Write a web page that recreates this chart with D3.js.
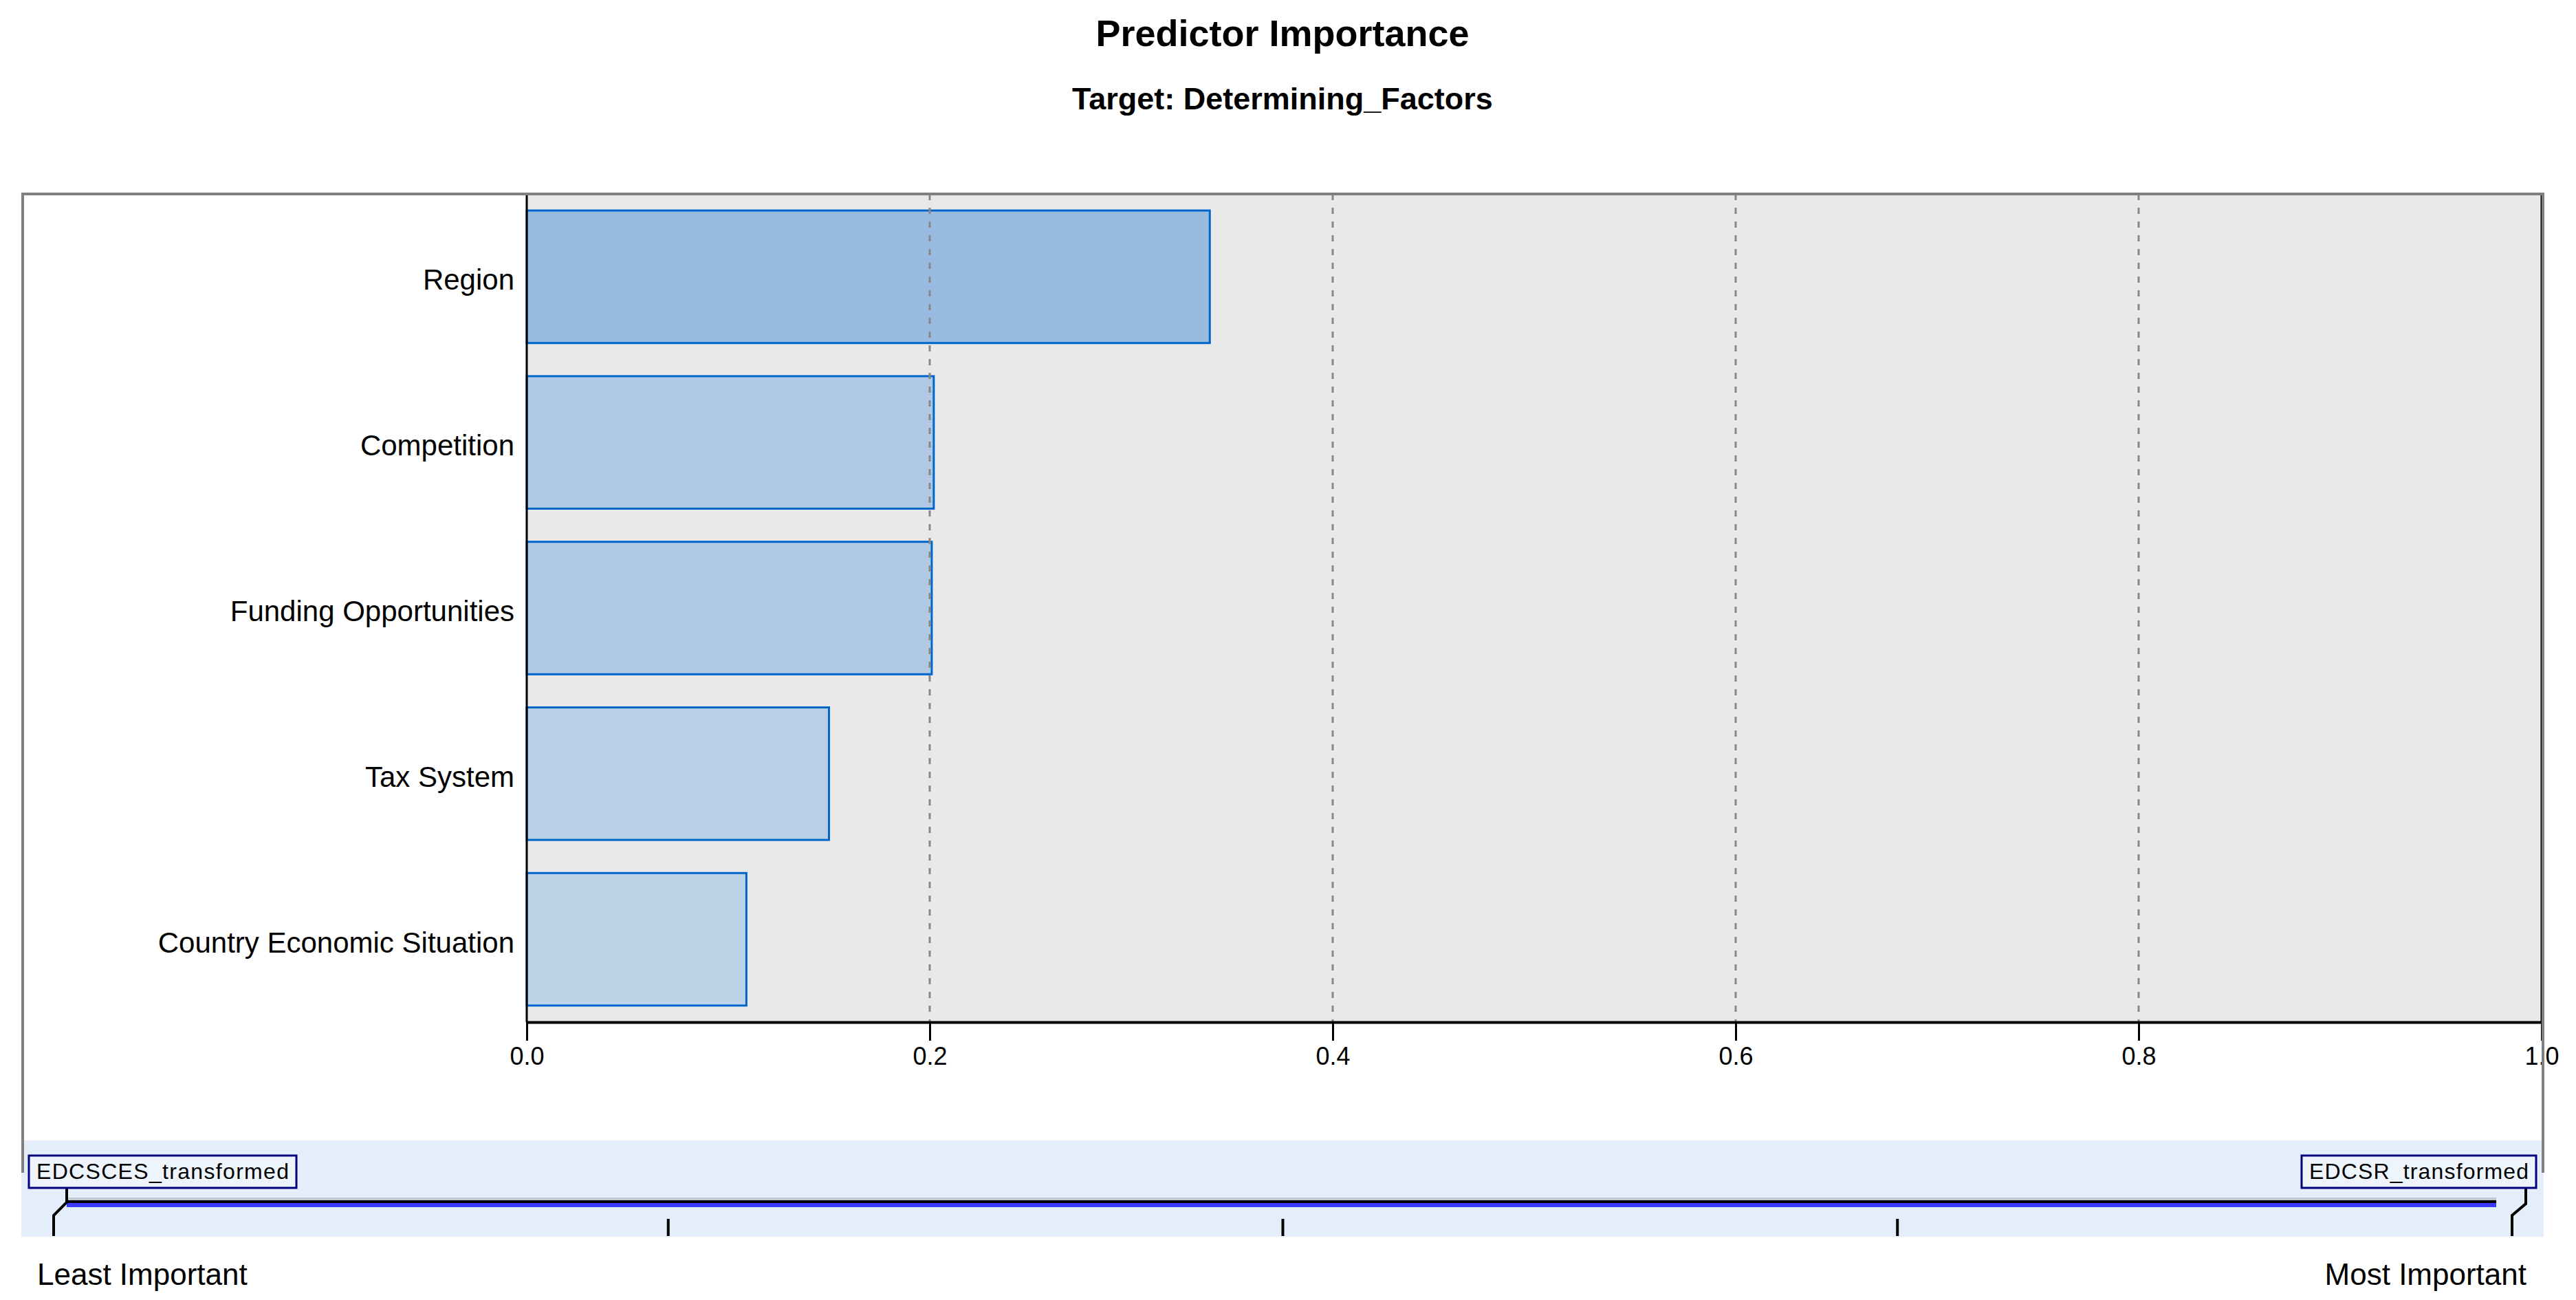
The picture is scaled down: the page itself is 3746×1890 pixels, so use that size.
<!DOCTYPE html>
<html>
<head>
<meta charset="utf-8">
<script src="https://cdn.jsdelivr.net/npm/d3@7"></script>
<style>
  body { margin: 0; background: #fff; }
  text { font-family: "Liberation Sans", Arial, sans-serif; fill: #000; }
</style>
</head>
<body>
<svg id="chart"></svg>
<script>
const predictors = ["Region", "Competition", "Funding Opportunities", "Tax System", "Country Economic Situation"];
const importance = [0.339, 0.202, 0.201, 0.150, 0.109];
const xTicks = [0, 0.2, 0.4, 0.6, 0.8, 1.0];
const rangeLabels = ["EDCSCES_transformed", "EDCSR_transformed"];
const endLabels = ["Least Important", "Most Important"];
const rangeTicks = [0.25, 0.5, 0.75];

const W = 3746, H = 1890;
const panel = { left: 33, right: 3698, top: 282, bottom: 1705 };
const plot = { left: 766, right: 3696, top: 282, bottom: 1486 };

const svg = d3.select("#chart")
  .attr("width", W)
  .attr("height", H);

svg.append("rect").attr("width", W).attr("height", H).attr("fill", "#fff");

// titles
svg.append("text")
  .attr("x", 1865).attr("y", 67)
  .attr("text-anchor", "middle")
  .style("font-size", "54px").style("font-weight", "bold")
  .text("Predictor Importance");

svg.append("text")
  .attr("x", 1865).attr("y", 159)
  .attr("text-anchor", "middle")
  .style("font-size", "45px").style("font-weight", "bold")
  .text("Target: Determining_Factors");

const data = predictors.map((p, i) => ({ name: p, value: importance[i] }));

const x = d3.scaleLinear().domain([0, 1]).range([plot.left, plot.right]);
const y = d3.scaleBand().domain(predictors).range([plot.top, plot.bottom])
  .paddingInner(0.2).paddingOuter(0.1);
const fill = d3.scaleLinear()
  .domain([d3.min(importance), d3.max(importance)])
  .range(["#bfd3e8", "#99bbdf"]);

// plot background
svg.append("rect")
  .attr("x", plot.left).attr("y", plot.top)
  .attr("width", plot.right - plot.left).attr("height", plot.bottom - plot.top)
  .attr("fill", "#e9e9e9");

// bars
svg.selectAll(".bar")
  .data(data)
  .enter()
  .append("rect")
  .attr("class", "bar")
  .attr("x", x(0))
  .attr("y", d => y(d.name))
  .attr("width", d => x(d.value) - x(0))
  .attr("height", y.bandwidth())
  .attr("fill", d => fill(d.value))
  .attr("stroke", "#0066cc")
  .attr("stroke-width", 3);

// dashed grid lines
svg.selectAll(".grid")
  .data(xTicks.filter(t => t > 0 && t < 1))
  .enter()
  .append("line")
  .attr("x1", d => x(d)).attr("x2", d => x(d))
  .attr("y1", plot.top).attr("y2", plot.bottom)
  .attr("stroke", "#888")
  .attr("stroke-width", 3)
  .attr("stroke-dasharray", "9,11");

// category labels
svg.selectAll(".cat")
  .data(predictors)
  .enter()
  .append("text")
  .attr("x", plot.left - 18)
  .attr("y", d => y(d) + y.bandwidth() / 2 + 19)
  .attr("text-anchor", "end")
  .style("font-size", "42px")
  .text(d => d);

// x axis
const xAxis = d3.axisBottom(x)
  .tickValues(xTicks)
  .tickFormat(d3.format(".1f"))
  .tickSize(27)
  .tickSizeOuter(0)
  .tickPadding(9);

const gx = svg.append("g")
  .attr("transform", `translate(0, ${plot.bottom})`)
  .call(xAxis);
gx.select(".domain").attr("stroke", "#000").attr("stroke-width", 4);
gx.selectAll(".tick line").attr("stroke", "#000").attr("stroke-width", 3);
gx.selectAll(".tick text")
  .style("font-size", "36px")
  .style("font-family", "'Liberation Sans', Arial, sans-serif")
  .attr("fill", "#000");

// plot left and right edges
svg.append("line")
  .attr("x1", plot.left).attr("x2", plot.left)
  .attr("y1", plot.top).attr("y2", plot.bottom)
  .attr("stroke", "#000").attr("stroke-width", 3);
svg.append("line")
  .attr("x1", plot.right).attr("x2", plot.right)
  .attr("y1", plot.top).attr("y2", plot.bottom)
  .attr("stroke", "#000").attr("stroke-width", 3);

// importance strip
svg.append("rect")
  .attr("x", 31).attr("y", 1658)
  .attr("width", 3699 - 31).attr("height", 1798 - 1658)
  .attr("fill", "#e3eefa");

// panel border
svg.append("path")
  .attr("d", `M${panel.left},${panel.bottom}V${panel.top}H${panel.right}V${panel.bottom}`)
  .attr("fill", "none")
  .attr("stroke", "#808080")
  .attr("stroke-width", 4);

const r = d3.scaleLinear().domain([0, 1]).range([78, 3653]);

// strip bar: gray, black, blue
svg.append("rect").attr("x", 97).attr("y", 1741).attr("width", 3630 - 97).attr("height", 4).attr("fill", "#c3c8d2");
svg.append("rect").attr("x", 97).attr("y", 1745).attr("width", 3630 - 97).attr("height", 4).attr("fill", "#000");
svg.append("rect").attr("x", 97).attr("y", 1749).attr("width", 3630 - 97).attr("height", 6).attr("fill", "#3a3aff");

svg.selectAll(".rtick")
  .data(rangeTicks)
  .enter()
  .append("line")
  .attr("x1", d => r(d)).attr("x2", d => r(d))
  .attr("y1", 1772).attr("y2", 1797)
  .attr("stroke", "#000").attr("stroke-width", 4);

// connectors
svg.append("path")
  .attr("d", `M97,1727V1748L${r(0)},1767V1797`)
  .attr("fill", "none").attr("stroke", "#000").attr("stroke-width", 4);
svg.append("path")
  .attr("d", `M3673,1727V1750L${r(1)},1767V1797`)
  .attr("fill", "none").attr("stroke", "#000").attr("stroke-width", 4);

// range labels
const boxes = [
  { x: 42, w: 431 - 42, label: rangeLabels[0] },
  { x: 3347, w: 3688 - 3347, label: rangeLabels[1] }
];
const gb = svg.selectAll(".rbox")
  .data(boxes)
  .enter()
  .append("g");
gb.append("rect")
  .attr("x", d => d.x).attr("y", 1680)
  .attr("width", d => d.w).attr("height", 47)
  .attr("fill", "#eef4fc")
  .attr("stroke", "#000080").attr("stroke-width", 3);
gb.append("text")
  .attr("x", d => d.x + d.w / 2).attr("y", 1714)
  .attr("text-anchor", "middle")
  .attr("textLength", d => d.w - 22)
  .style("font-size", "32px")
  .text(d => d.label);

// end labels
svg.append("text")
  .attr("x", 54).attr("y", 1868)
  .style("font-size", "44px")
  .text(endLabels[0]);
svg.append("text")
  .attr("x", 3674).attr("y", 1868)
  .attr("text-anchor", "end")
  .style("font-size", "44px")
  .text(endLabels[1]);
</script>
</body>
</html>
